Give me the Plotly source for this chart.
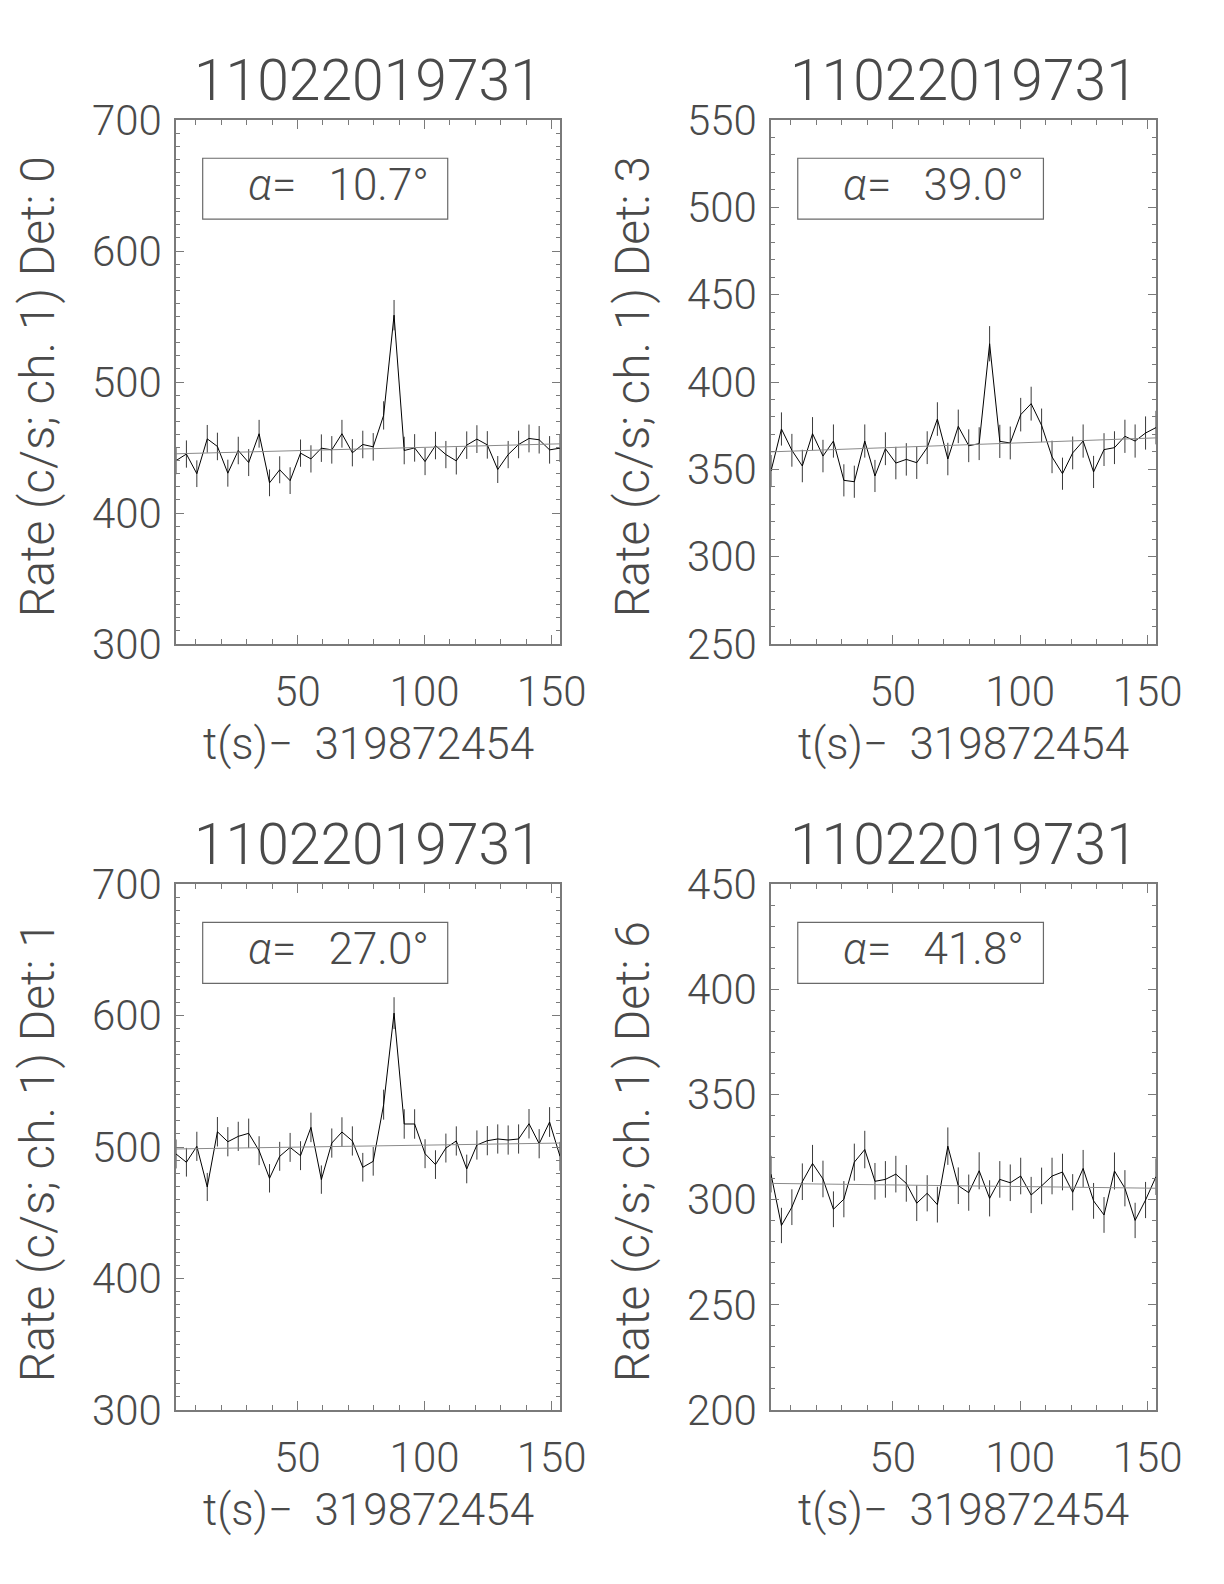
import plotly.graph_objects as go

# ---------------- data ----------------
t = [2.2, 6.3, 10.4, 14.5, 18.5, 22.6, 26.7, 30.8, 34.9, 39.0, 43.0, 47.1, 51.2,
     55.3, 59.4, 63.5, 67.5, 71.6, 75.7, 79.8, 83.9, 88.0, 92.0, 96.1, 100.2,
     104.3, 108.4, 112.5, 116.6, 120.6, 124.7, 128.8, 132.9, 137.0, 141.1,
     145.1, 149.2, 153.3]

title_text = "11022019731"
xlabel = "t(s)\u2212\u00a0\u00a0319872454"
det_labels = ["0", "3", "1", "6"]
alphas = ["10.7", "39.0", "27.0", "41.8"]

rate_det0 = [440, 445, 430, 456.6, 450.8, 430.4, 447.7, 438.5, 460.5, 423, 433, 424.7,
             445.7, 441.3, 449.5, 448.2, 460.5, 446, 452.3, 450.5, 474.5, 551, 447.7,
             449.7, 439.3, 451.5, 444.6, 439.8, 451.8, 456.4, 452, 433.2, 444.6, 452.3,
             456.9, 455.9, 448.2, 449.5]
err_det0 = [10.4, 10.4, 10.2, 10.6, 10.5, 10.3, 10.5, 10.3, 10.6, 10.2, 10.3, 10.2, 10.4,
            10.4, 10.5, 10.5, 10.6, 10.4, 10.5, 10.5, 10.8, 11.6, 10.5, 10.5, 10.4, 10.5,
            10.4, 10.4, 10.5, 10.6, 10.5, 10.3, 10.4, 10.5, 10.6, 10.5, 10.5, 10.5]
fit_det0 = [445.2, 452.8]

rate_det3 = [349, 373.1, 360.9, 351.9, 370.4, 357.6, 366.2, 343.7, 342.9, 366.2, 346.2,
             361.8, 353.6, 355.7, 353.8, 362.4, 378.8, 355.9, 374.6, 363.5, 364.7, 421.9,
             366, 365.1, 381.3, 387.6, 375.2, 357.1, 347.5, 359.4, 366.2, 348.5, 361.3,
             362.4, 368.9, 366.2, 370.8, 373.9]
err_det3 = [9.2, 9.5, 9.4, 9.3, 9.5, 9.3, 9.5, 9.2, 9.2, 9.5, 9.2, 9.4, 9.3, 9.3, 9.3, 9.4,
            9.6, 9.3, 9.6, 9.4, 9.4, 10.1, 9.5, 9.4, 9.6, 9.7, 9.6, 9.3, 9.2, 9.4, 9.5, 9.2,
            9.4, 9.4, 9.5, 9.5, 9.5, 9.6]
fit_det3 = [360.0, 368.0]

rate_det1 = [494.7, 488.4, 500.5, 469.6, 511.6, 504, 508.1, 510.4, 497.2, 476.2, 492.9,
             499.7, 493.4, 514.9, 475.2, 503, 511.4, 504.6, 484.6, 489.1, 532.2, 601.8,
             517.5, 517.5, 494.9, 486.6, 499.2, 504.6, 483.3, 501.5, 504.8, 506.1, 505.3,
             506.1, 517.7, 502.5, 519, 492.9]
err_det1 = [11.0, 10.9, 11.1, 10.7, 11.2, 11.1, 11.1, 11.2, 11.0, 10.8, 11.0, 11.0, 11.0,
            11.2, 10.8, 11.1, 11.2, 11.1, 10.9, 10.9, 11.4, 12.1, 11.2, 11.2, 11.0, 10.9,
            11.0, 11.1, 10.9, 11.1, 11.1, 11.1, 11.1, 11.1, 11.2, 11.1, 11.3, 11.0]
fit_det1 = [498.5, 503.0]

rate_det6 = [312.1, 287.7, 296.4, 308.5, 317.2, 309.8, 295.4, 300.2, 317.8, 323.8, 308.7,
             309.6, 312.1, 307.7, 298.3, 303, 297.6, 325.4, 306.6, 303.3, 313.7, 300.6,
             309.6, 308, 311.2, 302.2, 306.5, 311.2, 313.1, 303.5, 314.8, 299.4, 292.7,
             313.6, 305.4, 290.1, 299.8, 310.9]
err_det6 = [8.7, 8.4, 8.5, 8.7, 8.8, 8.7, 8.5, 8.6, 8.8, 8.9, 8.7, 8.7, 8.7, 8.7, 8.5, 8.6,
            8.5, 8.9, 8.7, 8.6, 8.8, 8.6, 8.7, 8.7, 8.7, 8.6, 8.7, 8.7, 8.7, 8.6, 8.8, 8.5,
            8.5, 8.8, 8.6, 8.4, 8.6, 8.7]
fit_det6 = [307.7, 305.4]

x_range = [2.2, 153.3]
y_ranges = [[300, 700], [250, 550], [300, 700], [200, 450]]
y_dticks = [100, 50, 100, 50]

panels = [
    (rate_det0, err_det0, fit_det0),
    (rate_det3, err_det3, fit_det3),
    (rate_det1, err_det1, fit_det1),
    (rate_det6, err_det6, fit_det6),
]

# ---------------- layout geometry (page pixels; page body has an 8px margin) ----------------
OFF = 8
W, H = 1224 - 2 * OFF, 1584 - 2 * OFF
xdoms_px = [(176, 560), (771, 1156), (176, 560), (771, 1156)]
ydoms_px = [(120, 644), (120, 644), (884, 1410), (884, 1410)]

FONT = "Roboto, 'Open Sans', 'DejaVu Sans', sans-serif"
WT = 300
TXT = "#4a4a4a"
AX = "#7a7a7a"

fig = go.Figure()
layout = dict(width=W, height=H, margin=dict(l=0, r=0, t=0, b=0, pad=0),
              autosize=False, template="none",
              paper_bgcolor="white", plot_bgcolor="white", showlegend=False)
annotations = []
shapes = []

for i, (rate, err, fit) in enumerate(panels):
    k = "" if i == 0 else str(i + 1)
    xa, ya = "x" + k, "y" + k
    fig.add_trace(go.Scatter(
        x=t, y=rate, mode="lines", xaxis=xa, yaxis=ya,
        line=dict(color="black", width=1),
        error_y=dict(type="data", array=err, visible=True, color="#3a3a3a",
                     thickness=1, width=0)))
    fig.add_trace(go.Scatter(
        x=[t[0], t[-1]], y=fit, mode="lines", xaxis=xa, yaxis=ya,
        line=dict(color="#8a8a8a", width=1)))

    x0, x1 = [v - OFF for v in xdoms_px[i]]
    y0, y1 = [v - OFF for v in ydoms_px[i]]
    common = dict(showgrid=False, zeroline=False, showline=True, linecolor=AX,
                  linewidth=1.5, mirror="ticks", ticks="inside", tickcolor=AX,
                  tickwidth=1, automargin=False,
                  tickfont=dict(family=FONT, size=42, color=TXT, weight=WT))
    layout["xaxis" + k] = dict(
        domain=[x0 / W, x1 / W], anchor=ya, range=x_range, tick0=0, dtick=50,
        ticklen=9, ticklabelstandoff=10,
        minor=dict(dtick=10, tick0=0, ticks="inside", ticklen=5, tickcolor=AX),
        **common)
    layout["yaxis" + k] = dict(
        domain=[1 - y1 / H, 1 - y0 / H], anchor=xa, range=y_ranges[i], tick0=0,
        dtick=y_dticks[i], ticklen=8, ticklabelstandoff=4,
        minor=dict(dtick=10, tick0=0, ticks="inside", ticklen=4, tickcolor=AX),
        **common)

    pw, ph = x1 - x0, y1 - y0
    annotations.append(dict(
        text=title_text, xref=xa + " domain", yref=ya + " domain", x=0.5,
        y=1 + 40 / ph, xanchor="center", yanchor="middle", showarrow=False,
        font=dict(family=FONT, size=57, color=TXT, weight=WT)))
    annotations.append(dict(
        text=xlabel, xref=xa + " domain", yref=ya + " domain", x=0.5,
        y=-100 / ph, xanchor="center", yanchor="middle", showarrow=False,
        font=dict(family=FONT, size=44, color=TXT, weight=WT)))
    annotations.append(dict(
        text="Rate (c/s; ch. 1) Det: " + det_labels[i], xref=xa + " domain",
        yref=ya + " domain", x=-139 / pw, y=0.49,
        xanchor="center", yanchor="middle", textangle=-90, showarrow=False,
        font=dict(family=FONT, size=48, color=TXT, weight=WT)))
    annotations.append(dict(
        text="<i>\u03b1</i>=\u00a0\u00a0\u00a0" + alphas[i] + "\u00b0",
        xref=xa + " domain", yref=ya + " domain", x=(337 - 175) / 384,
        y=1 - 65 / 524, xanchor="center", yanchor="middle", showarrow=False,
        font=dict(family=FONT, size=44, color=TXT, weight=WT)))
    shapes.append(dict(
        type="rect", xref=xa + " domain", yref=ya + " domain",
        x0=0.0695, x1=0.7076, y0=0.811, y1=0.927,
        line=dict(color="#6a6a6a", width=1.2), fillcolor="rgba(0,0,0,0)"))

layout["annotations"] = annotations
layout["shapes"] = shapes
fig.update_layout(**layout)
fig.write_html("out.html")
